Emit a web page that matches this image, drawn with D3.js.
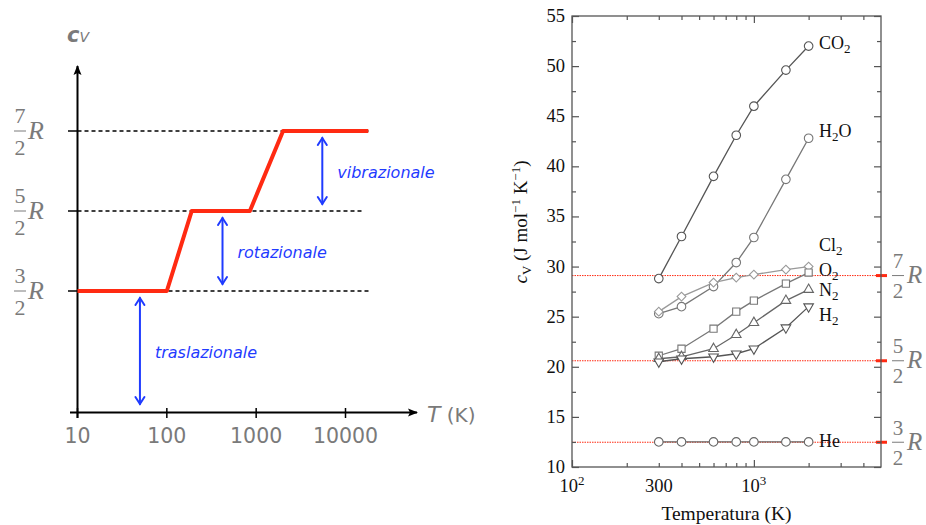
<!DOCTYPE html>
<html>
<head>
<meta charset="utf-8">
<script src="https://cdn.jsdelivr.net/npm/d3@7"></script>
<style>
  body { margin: 0; background: #fff; }
  svg { display: block; }
</style>
</head>
<body>
<svg width="926" height="525"></svg>
<script>
// ---- left panel data (cv in units of R) ----
var stepT = [10, 100, 190, 850, 2000, 18000];
var stepCv = [1.5, 1.5, 2.5, 2.5, 3.5, 3.5];
var levelsL = [1.5, 2.5, 3.5];
var levelNum = ["3", "5", "7"];
var xTicksL = [10, 100, 1000, 10000];
var modeNames = ["traslazionale", "rotazionale", "vibrazionale"];
var modeT = [50, 420, 5500];
var modeFrom = [0, 1.5, 2.5];
var modeTo = [1.5, 2.5, 3.5];

// ---- right panel data (J mol-1 K-1) ----
var temps = [300, 400, 600, 800, 1000, 1500, 2000];
var gases = ["CO2", "H2O", "Cl2", "O2", "N2", "H2", "He"];
var cvCO2 = [28.8, 33.0, 39.0, 43.1, 46.0, 49.6, 52.0];
var cvH2O = [25.3, 26.0, 28.0, 30.4, 32.9, 38.7, 42.8];
var cvCl2 = [25.5, 27.0, 28.4, 28.9, 29.2, 29.7, 30.0];
var cvO2 = [21.1, 21.8, 23.8, 25.5, 26.6, 28.3, 29.4];
var cvN2 = [20.8, 21.0, 21.8, 23.2, 24.4, 26.6, 27.7];
var cvH2 = [20.5, 20.8, 21.0, 21.3, 21.8, 23.9, 26.0];
var cvHe = [12.5, 12.5, 12.5, 12.5, 12.5, 12.5, 12.5];
var levelsR = [12.47, 20.6, 29.1];
var yMajor = [10, 15, 20, 25, 30, 35, 40, 45, 50, 55];
var yMinor = [12.5, 17.5, 22.5, 27.5, 32.5, 37.5, 42.5, 47.5, 52.5];
var xMajor = [100, 1000];
var xMinor = [200, 300, 400, 500, 600, 700, 800, 900, 2000, 3000, 4000];

var svg = d3.select("svg");
var grey = "#7a7a7a";
var blue = "#1f3bff";
var red = "#ff2a12";

// ================= LEFT PANEL =================
var xL = d3.scaleLog().domain([10, 10000]).range([77.5, 345.5]);
var yL = d3.scaleLinear().domain([0, 3.5]).range([411, 131]);
var left = svg.append("g");

// dashed level lines
left.selectAll(".lvl")
    .data(levelsL)
    .enter().append("line")
    .attr("x1", xL(10))
    .attr("x2", function(d, i) { return i == 1 ? 364 : 369; })
    .attr("y1", function(d) { return yL(d); })
    .attr("y2", function(d) { return yL(d); })
    .attr("stroke", "#000")
    .attr("stroke-width", 1.6)
    .attr("stroke-dasharray", "4,3");

// axis arrows
var defs = svg.append("defs");
defs.append("marker")
    .attr("id", "ah")
    .attr("viewBox", "0 0 10 10")
    .attr("refX", 9).attr("refY", 5)
    .attr("markerWidth", 10).attr("markerHeight", 10)
    .attr("markerUnits", "userSpaceOnUse")
    .attr("orient", "auto")
    .append("path").attr("d", "M0,1 L10,5 L0,9 L2,5 Z").attr("fill", "#000");

var axisY = 412.5;
left.append("line")
    .attr("x1", 70).attr("x2", 417)
    .attr("y1", axisY).attr("y2", axisY)
    .attr("stroke", "#000").attr("stroke-width", 2)
    .attr("marker-end", "url(#ah)");
left.append("line")
    .attr("x1", xL(10)).attr("x2", xL(10))
    .attr("y1", 418).attr("y2", 66)
    .attr("stroke", "#000").attr("stroke-width", 2)
    .attr("marker-end", "url(#ah)");

// x ticks
left.selectAll(".xt")
    .data(xTicksL)
    .enter().append("line")
    .attr("x1", function(d) { return xL(d); })
    .attr("x2", function(d) { return xL(d); })
    .attr("y1", 408).attr("y2", 418)
    .attr("stroke", "#000").attr("stroke-width", 1.5);
left.selectAll(".xl")
    .data(xTicksL)
    .enter().append("text")
    .attr("x", function(d) { return xL(d); })
    .attr("y", 443)
    .attr("text-anchor", "middle")
    .attr("font-family", "DejaVu Sans")
    .attr("font-size", 20.5)
    .attr("fill", grey)
    .text(function(d) { return d; });

// y level ticks
left.selectAll(".yt")
    .data(levelsL)
    .enter().append("line")
    .attr("x1", 68).attr("x2", xL(10))
    .attr("y1", function(d) { return yL(d); })
    .attr("y2", function(d) { return yL(d); })
    .attr("stroke", "#000").attr("stroke-width", 1.5);

// fraction labels
function fraction(g, x, y, num, size, rx) {
    g.append("text").attr("x", x).attr("y", y - size * 0.36)
        .attr("text-anchor", "middle")
        .attr("font-family", "Liberation Serif").attr("font-size", size)
        .attr("fill", grey).text(num);
    g.append("line").attr("x1", x - 6).attr("x2", x + 6)
        .attr("y1", y).attr("y2", y)
        .attr("stroke", grey).attr("stroke-width", 1);
    g.append("text").attr("x", x).attr("y", y + size * 1.08)
        .attr("text-anchor", "middle")
        .attr("font-family", "Liberation Serif").attr("font-size", size)
        .attr("fill", grey).text("2");
    g.append("text").attr("x", rx).attr("y", y + size * 0.36)
        .attr("font-family", "Liberation Serif").attr("font-style", "italic")
        .attr("font-size", size + 4)
        .attr("fill", grey).text("R");
}
levelsL.forEach(function(d, i) {
    fraction(left, 20, yL(d), levelNum[i], 22, 28);
});

// axis titles
var cv = left.append("text")
    .attr("x", 67).attr("y", 41.5)
    .attr("font-family", "DejaVu Sans")
    .attr("font-style", "italic")
    .attr("fill", grey);
cv.append("tspan").attr("font-size", 21).attr("font-weight", "bold").text("c");
cv.append("tspan").attr("font-size", 14).text("V");

var tk = left.append("text")
    .attr("x", 427).attr("y", 421.5)
    .attr("font-family", "DejaVu Sans")
    .attr("font-size", 22)
    .attr("fill", grey);
tk.append("tspan").attr("font-style", "italic").text("T");
tk.append("tspan").attr("font-size", 20).text(" (K)");

// red curve
var stepLine = d3.line()
    .x(function(d, i) { return xL(stepT[i]); })
    .y(function(d) { return yL(d); });
left.append("path")
    .datum(stepCv)
    .attr("d", stepLine)
    .attr("fill", "none")
    .attr("stroke", red)
    .attr("stroke-width", 4)
    .attr("stroke-linejoin", "round");

// blue double arrows
modeNames.forEach(function(name, i) {
    var x = xL(modeT[i]);
    var y1 = yL(modeTo[i]) + 7;
    var y2 = yL(modeFrom[i]) - 7;
    var g = left.append("g").attr("stroke", blue).attr("stroke-width", 2)
        .attr("fill", "none").attr("stroke-linecap", "round");
    g.append("line").attr("x1", x).attr("x2", x).attr("y1", y1).attr("y2", y2);
    g.append("path").attr("d", "M" + (x - 4.5) + "," + (y1 + 7) + "L" + x + "," + y1 + "L" + (x + 4.5) + "," + (y1 + 7));
    g.append("path").attr("d", "M" + (x - 4.5) + "," + (y2 - 7) + "L" + x + "," + y2 + "L" + (x + 4.5) + "," + (y2 - 7));
    left.append("text")
        .attr("x", x + 15)
        .attr("y", (y1 + y2) / 2 + 6.5)
        .attr("font-family", "DejaVu Sans")
        .attr("font-style", "italic")
        .attr("font-size", 16)
        .attr("fill", blue)
        .text(name);
});

// ================= RIGHT PANEL =================
var xR = d3.scaleLog().domain([100, 5000]).range([572, 881]);
var yR = d3.scaleLinear().domain([10, 55]).range([467, 16]);
var right = svg.append("g");
var frameCol = "#555";

// red reference lines
right.selectAll(".ref")
    .data(levelsR)
    .enter().append("line")
    .attr("x1", xR(100)).attr("x2", 877)
    .attr("y1", function(d) { return yR(d); })
    .attr("y2", function(d) { return yR(d); })
    .attr("stroke", red).attr("stroke-width", 1)
    .attr("stroke-dasharray", "1.5,1");
right.selectAll(".refTick")
    .data(levelsR)
    .enter().append("line")
    .attr("x1", 876).attr("x2", 887)
    .attr("y1", function(d) { return yR(d); })
    .attr("y2", function(d) { return yR(d); })
    .attr("stroke", red).attr("stroke-width", 3);
levelsR.forEach(function(d, i) {
    fraction(right, 898, yR(d), levelNum[i], 21, 907);
});

// frame
right.append("rect")
    .attr("x", xR(100)).attr("y", yR(55))
    .attr("width", xR(5000) - xR(100))
    .attr("height", yR(10) - yR(55))
    .attr("fill", "none")
    .attr("stroke", frameCol)
    .attr("stroke-width", 1.3);

function ticks(axis, tr, vals, size) {
    var g = right.append("g")
        .attr("transform", tr)
        .call(axis.tickValues(vals).tickSize(-size).tickSizeOuter(0).tickFormat(""));
    g.select(".domain").remove();
    g.selectAll("line").attr("stroke", frameCol).attr("stroke-width", 1.2);
}
ticks(d3.axisLeft(yR), "translate(" + xR(100) + ",0)", yMajor, 7);
ticks(d3.axisLeft(yR), "translate(" + xR(100) + ",0)", yMinor, 4);
ticks(d3.axisRight(yR), "translate(" + xR(5000) + ",0)", yMajor, 7);
ticks(d3.axisRight(yR), "translate(" + xR(5000) + ",0)", yMinor, 4);
ticks(d3.axisBottom(xR), "translate(0," + yR(10) + ")", xMajor, 7);
ticks(d3.axisBottom(xR), "translate(0," + yR(10) + ")", xMinor, 4);
ticks(d3.axisTop(xR), "translate(0," + yR(55) + ")", xMajor, 7);
ticks(d3.axisTop(xR), "translate(0," + yR(55) + ")", xMinor, 4);

// tick labels
right.selectAll(".yl")
    .data(yMajor)
    .enter().append("text")
    .attr("x", 565)
    .attr("y", function(d) { return yR(d) + 6; })
    .attr("text-anchor", "end")
    .attr("font-family", "Liberation Serif")
    .attr("font-size", 18.5)
    .attr("fill", "#111")
    .text(function(d) { return d; });

var xLabs = [["10", "2", 100], ["300", "", 300], ["10", "3", 1000]];
xLabs.forEach(function(l) {
    var t = right.append("text")
        .attr("x", xR(l[2]))
        .attr("y", 492)
        .attr("text-anchor", "middle")
        .attr("font-family", "Liberation Serif")
        .attr("font-size", 18.5)
        .attr("fill", "#111");
    t.append("tspan").text(l[0]);
    if (l[1]) t.append("tspan").attr("dy", -7).attr("font-size", 13).text(l[1]);
});

right.append("text")
    .attr("x", (xR(100) + xR(5000)) / 2)
    .attr("y", 520)
    .attr("text-anchor", "middle")
    .attr("font-family", "Liberation Serif")
    .attr("font-size", 19.5)
    .attr("fill", "#111")
    .text("Temperatura (K)");

var yt = right.append("text")
    .attr("transform", "translate(527,222) rotate(-90)")
    .attr("text-anchor", "middle")
    .attr("font-family", "Liberation Serif")
    .attr("font-size", 19)
    .attr("fill", "#111");
yt.append("tspan").attr("font-style", "italic").text("c");
yt.append("tspan").attr("font-size", 13).attr("dy", 4).text("V");
yt.append("tspan").attr("dy", -4).text(" (J mol");
yt.append("tspan").attr("font-size", 13).attr("dy", -7).text("\u22121");
yt.append("tspan").attr("dy", 7).text(" K");
yt.append("tspan").attr("font-size", 13).attr("dy", -7).text("\u22121");
yt.append("tspan").attr("dy", 7).text(")");

// series
var seriesVals = [cvCO2, cvH2O, cvCl2, cvO2, cvN2, cvH2, cvHe];
var seriesCol = ["#555", "#777", "#999", "#777", "#666", "#555", "#666"];
var seriesSym = ["circle", "circle", "diamond", "square", "up", "down", "circle"];
var labelY = [48.5, 137, 251, 276, 296, 321, 447];

var line = d3.line()
    .x(function(d, i) { return xR(temps[i]); })
    .y(function(d) { return yR(d); });

var symbols = {
    circle: d3.symbol().type(d3.symbolCircle).size(58),
    diamond: d3.symbol().type(d3.symbolSquare).size(38),
    square: d3.symbol().type(d3.symbolSquare).size(52),
    up: d3.symbol().type(d3.symbolTriangle).size(40),
    down: d3.symbol().type(d3.symbolTriangle).size(40)
};
var symRot = { circle: 0, diamond: 45, square: 0, up: 0, down: 180 };

gases.forEach(function(gas, k) {
    var vals = seriesVals[k];
    var g = right.append("g");
    g.append("path")
        .datum(vals)
        .attr("d", line)
        .attr("fill", "none")
        .attr("stroke", seriesCol[k])
        .attr("stroke-width", 1.3);
    g.selectAll("path.pt")
        .data(vals)
        .enter().append("path")
        .attr("class", "pt")
        .attr("d", symbols[seriesSym[k]])
        .attr("transform", function(d, i) {
            return "translate(" + xR(temps[i]) + "," + yR(d) + ") rotate(" + symRot[seriesSym[k]] + ")";
        })
        .attr("fill", "#fff")
        .attr("stroke", seriesCol[k])
        .attr("stroke-width", 1.1);

    var t = right.append("text")
        .attr("x", 819)
        .attr("y", labelY[k])
        .attr("font-family", "Liberation Serif")
        .attr("font-size", 18)
        .attr("fill", "#111");
    var m = gas.match(/^([A-Za-z]+)(\d?)([A-Za-z]*)$/);
    t.append("tspan").text(m[1]);
    if (m[2]) t.append("tspan").attr("font-size", 13).attr("dy", 4).text(m[2]);
    if (m[3]) t.append("tspan").attr("dy", -4).text(m[3]);
});
</script>
</body>
</html>
